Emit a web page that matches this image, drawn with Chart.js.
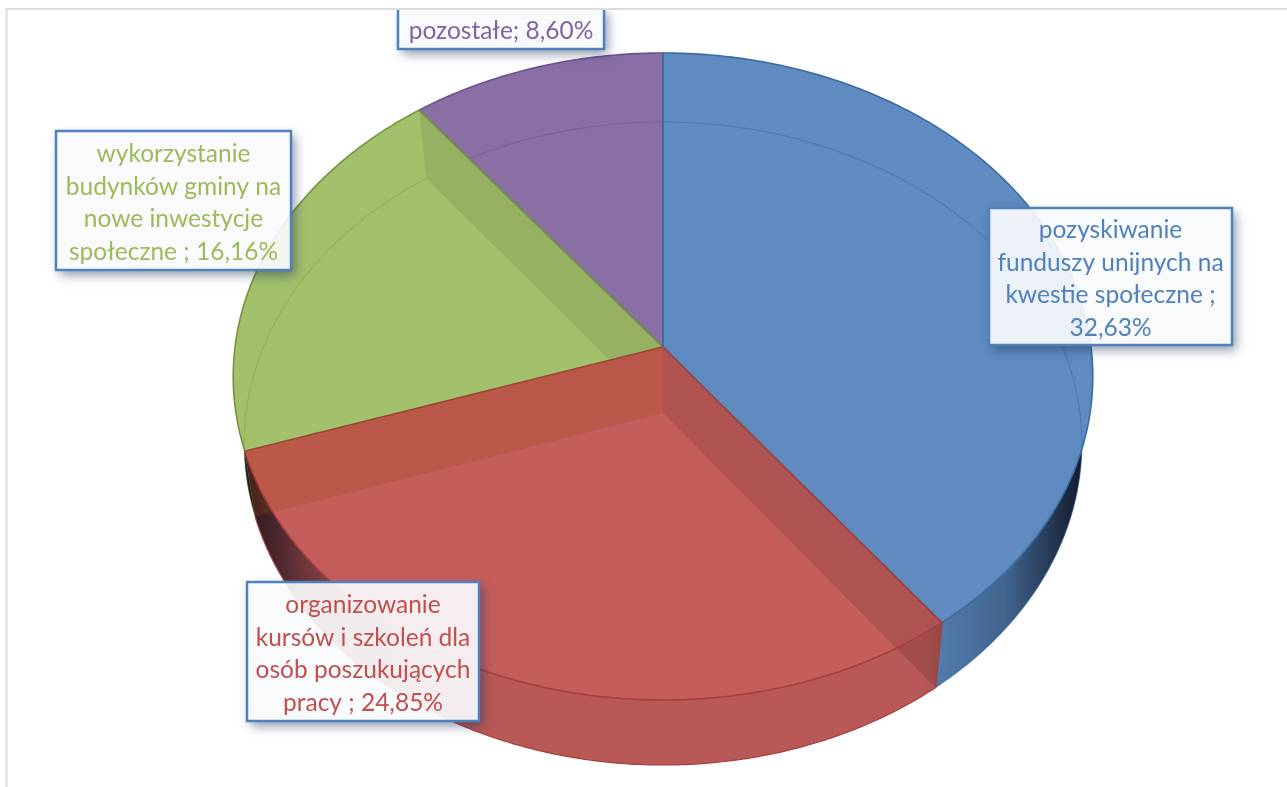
<!DOCTYPE html>
<html>
<head>
<meta charset="utf-8">
<style>
html, body { margin: 0; padding: 0; background: #fff; overflow: hidden; }
canvas { display: block; }
</style>
<script src="https://cdn.jsdelivr.net/npm/chart.js@4"></script>
</head>
<body>
<canvas id="pie3d" width="1287" height="787"></canvas>
<script>
// labels, line breaks as in the picture
var categories = [
	'pozyskiwanie\nfunduszy unijnych na\nkwestie społeczne ;\n',
	'organizowanie\nkursów i szkoleń dla\nosób poszukujących\npracy ; ',
	'wykorzystanie\nbudynków gminy na\nnowe inwestycje\nspołeczne ; ',
	'pozostałe; '
];
var shares = [32.63, 24.85, 16.16, 8.60];

var sliceColors = ['#5F8BC0', '#C55E5B', '#A3C06B', '#8A6FA5'];
var edgeColors = ['#3A6CA3', '#A63F3D', '#76953F', '#6A5290'];
var sideColors = ['#5581B3', '#B85857', '#6F8A45', '#6A5290'];
var textColors = ['#4F81BD', '#C0504D', '#9BBB59', '#8064A2'];
var rimAlpha = [0.5, 1, 0.3, 0.45];
// tint of the inner walls seen through a slice
var startWallTint = [null, 'rgba(0,0,0,0.11)', null, null];
var endWallTint = [null, 'rgba(160,70,20,0.25)', 'rgba(0,0,0,0.08)', null];
var drawOrder = [3, 2, 0, 1];

// perspective of the two disc faces
var topFace = { cx: 663, cy: 347, rx: 428, ry: 320.8, k: -0.0912 };
var bottomFace = { cx: 663, cy: 413, rx: 417, ry: 318.6, k: -0.0949 };

// x, y, w, h of the label boxes
var labelBoxes = [
	[989, 208, 243, 137],
	[247, 582, 232, 139],
	[56, 131, 235, 139],
	[398, 8, 206, 41]
];
var labelLineHeight = 32.7;
var labelFont = '24.5px Lato';

function project(face, angle) {
	var u = Math.cos(angle), v = Math.sin(angle);
	var d = 1 + face.k * v;
	return { x: face.cx + face.rx * u / d, y: face.cy + face.ry * v / d };
}

function traceRim(ctx, face, from, to) {
	var steps = Math.max(2, Math.ceil(Math.abs(to - from) / 0.01));
	for (var i = 0; i <= steps; i++) {
		var p = project(face, from + (to - from) * i / steps);
		ctx.lineTo(p.x, p.y);
	}
}

function wedgePath(ctx, face, arc) {
	ctx.beginPath();
	ctx.moveTo(face.cx, face.cy);
	traceRim(ctx, face, arc.startAngle, arc.endAngle);
	ctx.closePath();
}

function sidePath(ctx, arc) {
	ctx.beginPath();
	traceRim(ctx, topFace, arc.startAngle, arc.endAngle);
	traceRim(ctx, bottomFace, arc.endAngle, arc.startAngle);
	ctx.closePath();
}

function footprintPath(ctx, arc) {
	var a = project(topFace, arc.endAngle);
	var s = project(topFace, arc.startAngle);
	ctx.beginPath();
	ctx.moveTo(topFace.cx, topFace.cy);
	ctx.lineTo(s.x, s.y);
	traceRim(ctx, bottomFace, arc.startAngle, arc.endAngle);
	ctx.lineTo(a.x, a.y);
	ctx.closePath();
}

function wallPath(ctx, angle) {
	var t = project(topFace, angle), b = project(bottomFace, angle);
	ctx.beginPath();
	ctx.moveTo(topFace.cx, topFace.cy);
	ctx.lineTo(t.x, t.y);
	ctx.lineTo(b.x, b.y);
	ctx.lineTo(bottomFace.cx, bottomFace.cy);
	ctx.closePath();
}

function drawLabel(ctx, box, i) {
	var x = box[0], y = box[1], w = box[2], h = box[3];
	var text = categories[i] + shares[i].toFixed(2).replace('.', ',') + '%';
	var lines = text.split('\n');

	// the frame cuts off whatever pokes out at the top
	ctx.save();
	ctx.beginPath();
	ctx.rect(0, 10, 1287, 777);
	ctx.clip();

	// shadow only outside the box, the box itself lets the pie through
	ctx.save();
	ctx.beginPath();
	ctx.rect(0, 0, 1287, 787);
	ctx.rect(x, y, w, h);
	ctx.clip('evenodd');
	ctx.shadowColor = 'rgba(30,50,90,0.5)';
	ctx.shadowBlur = 10;
	ctx.shadowOffsetX = 4;
	ctx.shadowOffsetY = 5;
	ctx.fillStyle = '#fff';
	ctx.fillRect(x, y, w, h);
	ctx.restore();

	ctx.fillStyle = 'rgba(248,250,252,0.92)';
	ctx.fillRect(x, y, w, h);
	ctx.strokeStyle = '#4F81BD';
	ctx.lineWidth = 2.5;
	ctx.strokeRect(x, y, w, h);
	ctx.restore();

	ctx.fillStyle = textColors[i];
	lines.forEach(function (line, n) {
		var ly = y + h / 2 + 2.5 + (n - (lines.length - 1) / 2) * labelLineHeight;
		ctx.fillText(line, x + w / 2, ly);
	});
}

var pie3dPlugin = {
	id: 'pie3d',
	beforeDraw: function (chart) {
		var ctx = chart.ctx;
		ctx.save();
		ctx.strokeStyle = '#DDDDDD';
		ctx.lineWidth = 2;
		ctx.beginPath();
		ctx.moveTo(6.5, 800);
		ctx.lineTo(6.5, 9);
		ctx.lineTo(1300, 9);
		ctx.stroke();
		ctx.restore();
	},
	beforeDatasetsDraw: function (chart) {
		var ctx = chart.ctx;
		var arcs = chart.getDatasetMeta(0).data;
		ctx.save();
		ctx.lineJoin = 'round';

		// outer side of the disc, darker towards both ends
		var shade = ctx.createLinearGradient(topFace.cx - topFace.rx, 0, topFace.cx + topFace.rx, 0);
		shade.addColorStop(0.02, 'rgba(10,10,20,0.8)');
		shade.addColorStop(0.12, 'rgba(10,10,20,0.2)');
		shade.addColorStop(0.2, 'rgba(10,10,20,0)');
		shade.addColorStop(0.8, 'rgba(10,15,30,0)');
		shade.addColorStop(0.9, 'rgba(10,15,30,0.25)');
		shade.addColorStop(0.99, 'rgba(10,15,30,0.9)');
		drawOrder.forEach(function (i) {
			sidePath(ctx, arcs[i]);
			ctx.fillStyle = sideColors[i];
			ctx.fill();
			ctx.fillStyle = shade;
			ctx.fill();
		});

		// top faces
		drawOrder.forEach(function (i) {
			wedgePath(ctx, topFace, arcs[i]);
			ctx.fillStyle = arcs[i].options.backgroundColor;
			ctx.fill();
		});

		// inner walls and the far rim seen through the slices
		drawOrder.forEach(function (i) {
			ctx.save();
			footprintPath(ctx, arcs[i]);
			ctx.clip();
			if (startWallTint[i]) {
				wallPath(ctx, arcs[i].startAngle);
				ctx.fillStyle = startWallTint[i];
				ctx.fill();
			}
			if (endWallTint[i]) {
				wallPath(ctx, arcs[i].endAngle);
				ctx.fillStyle = endWallTint[i];
				ctx.fill();
			}
			ctx.restore();
			ctx.save();
			// a slice wholly at the back shows its rim only inside its own face
			if (Math.sin(arcs[i].startAngle) < 0 && Math.sin(arcs[i].endAngle) < 0) {
				wedgePath(ctx, topFace, arcs[i]);
				ctx.clip();
			}
			ctx.globalAlpha = rimAlpha[i];
			ctx.strokeStyle = arcs[i].options.borderColor;
			ctx.lineWidth = 1.2;
			ctx.beginPath();
			traceRim(ctx, bottomFace, arcs[i].startAngle, arcs[i].endAngle);
			ctx.stroke();
			ctx.restore();
		});

		// slice outlines
		drawOrder.forEach(function (i) {
			var t = project(topFace, arcs[i].startAngle), b = project(bottomFace, arcs[i].startAngle);
			ctx.strokeStyle = arcs[i].options.borderColor;
			ctx.lineWidth = 1.6;
			wedgePath(ctx, topFace, arcs[i]);
			ctx.stroke();
			if (i === 1) {
				ctx.beginPath();
				ctx.moveTo(t.x, t.y);
				ctx.lineTo(b.x, b.y);
				ctx.stroke();
			}
		});
		ctx.restore();
		return false;
	},
	afterDraw: function (chart) {
		var ctx = chart.ctx;
		ctx.save();
		ctx.font = labelFont;
		ctx.textAlign = 'center';
		ctx.textBaseline = 'middle';
		labelBoxes.forEach(function (box, i) {
			drawLabel(ctx, box, i);
		});
		ctx.restore();
	}
};

var pie = new Chart(document.getElementById('pie3d'), {
	type: 'pie',
	data: {
		labels: categories,
		datasets: [{
			data: shares,
			backgroundColor: sliceColors,
			borderColor: edgeColors
		}]
	},
	options: {
		responsive: false,
		animation: false,
		plugins: {
			legend: { display: false },
			tooltip: { enabled: false }
		}
	},
	plugins: [pie3dPlugin]
});
</script>
</body>
</html>
